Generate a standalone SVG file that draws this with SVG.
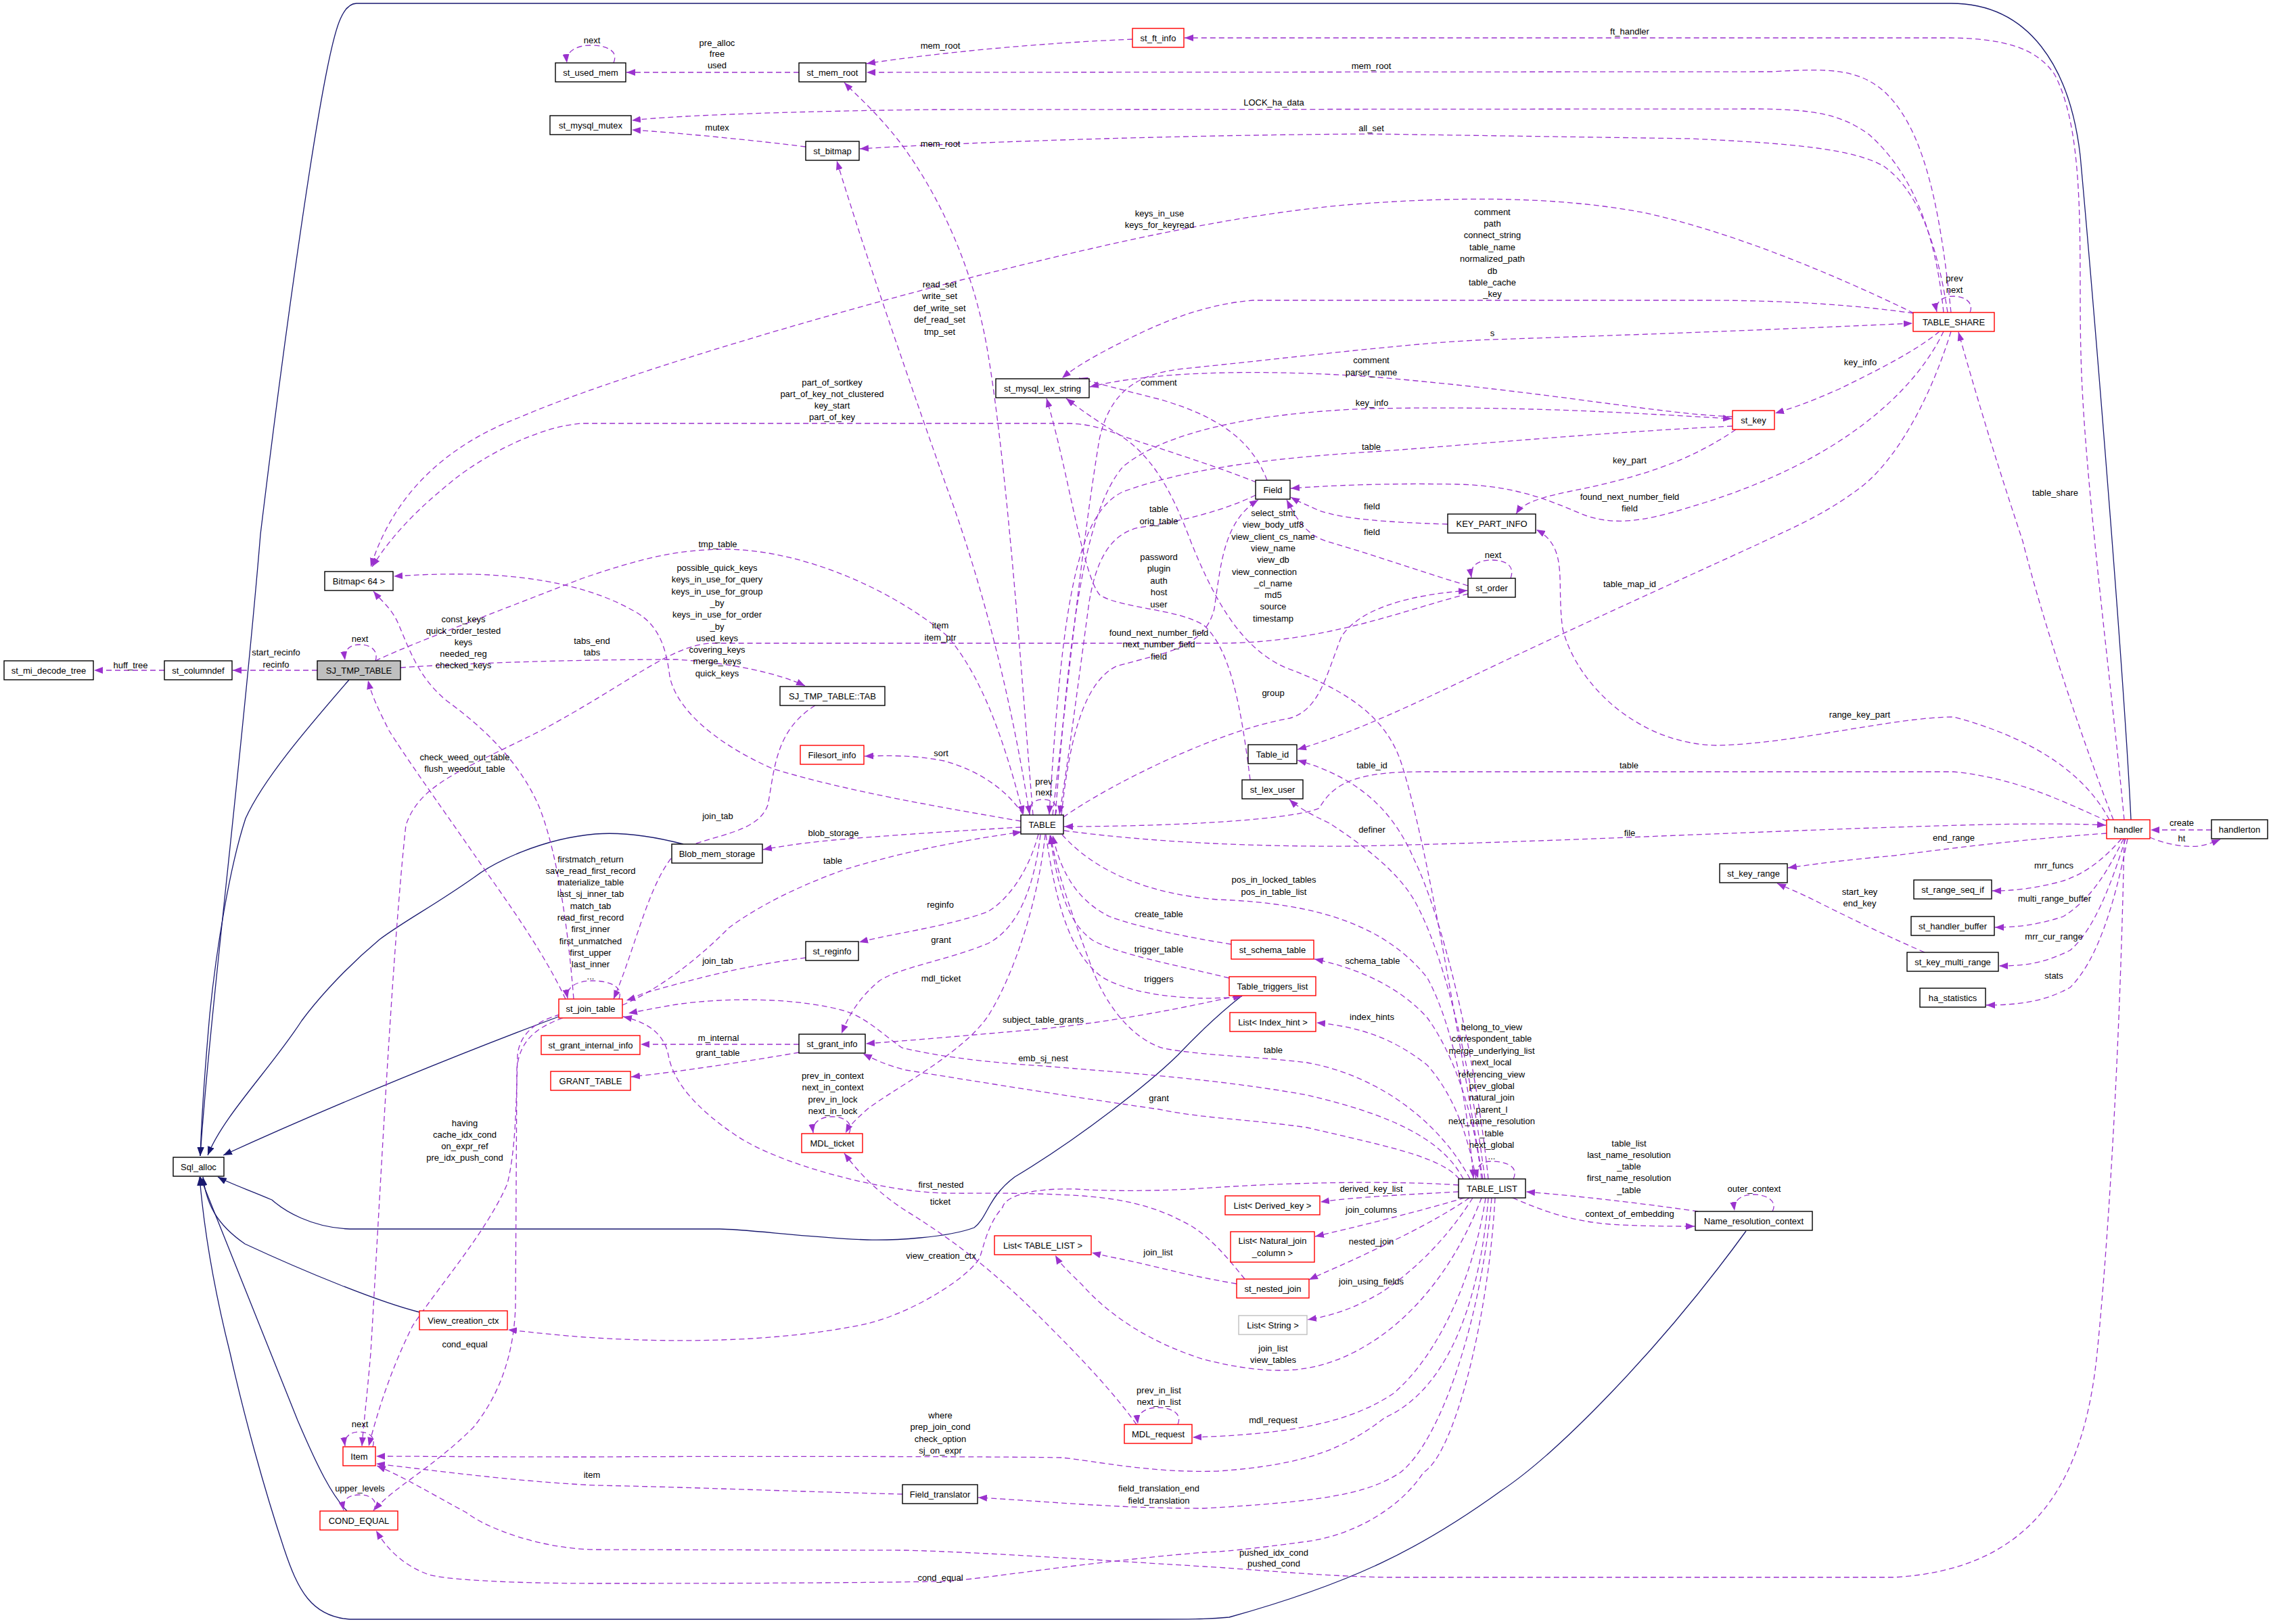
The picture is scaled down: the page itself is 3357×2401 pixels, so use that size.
<svg xmlns="http://www.w3.org/2000/svg" width="3357" height="2401" viewBox="0 0 3357 2401">
<defs>
<style>
text{font-family:"Liberation Sans",Arial,sans-serif;font-size:13px;fill:#000;text-anchor:middle}
.n rect{fill:#fff;stroke:#000;stroke-width:1.4}
.r rect{fill:#fff;stroke:#ff0000;stroke-width:1.4}
.g rect{fill:#fff;stroke:#bfbfbf;stroke-width:1.4}
.s rect{fill:#bfbfbf;stroke:#000;stroke-width:1.4}
.e path{fill:none;stroke:#9a32cd;stroke-width:1.3;stroke-dasharray:8,5;marker-end:url(#a)}
.i path{fill:none;stroke:#191970;stroke-width:1.3;marker-end:url(#b)}
</style>
<marker id="a" markerUnits="userSpaceOnUse" markerWidth="14" markerHeight="10" refX="13" refY="5" orient="auto"><path d="M0,0 L13,5 L0,10 z" fill="#9a32cd"/></marker>
<marker id="b" markerUnits="userSpaceOnUse" markerWidth="14" markerHeight="10" refX="13" refY="5" orient="auto"><path d="M0,0 L13,5 L0,10 z" fill="#191970"/></marker>
</defs>
<rect width="3357" height="2401" fill="#fff"/>
<g id="connectors">
<g class="i">
<path d="M3150,1212 C3140,1000 3095,450 3075,230 C3060,100 3000,5 2884,5 L527,5 C505,5 495,45 483,105 C460,220 420,500 385,790 C360,1100 310,1500 296,1709"/>
<path d="M516,1005 C460,1070 390,1150 363,1210 C340,1280 320,1400 310,1500 C303,1580 298,1650 296,1709"/>
<path d="M1010,1248 C960,1235 920,1230 880,1233 C800,1240 730,1275 701,1297 C640,1340 600,1360 561,1389 C500,1440 460,1490 446,1509 C400,1580 330,1650 307,1708"/>
<path d="M826,1503 C700,1550 500,1630 330,1708"/>
<path d="M1836,1472 C1800,1500 1760,1540 1741,1560 C1700,1600 1600,1680 1500,1740 C1460,1770 1460,1800 1440,1815 C1400,1830 1320,1834 1282,1833 C1200,1830 1100,1817 1064,1817 L517,1817 C460,1815 420,1790 402,1774 C370,1760 340,1750 322,1740"/>
<path d="M620,1940 C560,1925 450,1880 362,1839 C320,1810 305,1780 300,1740"/>
<path d="M513,2234 C490,2210 470,2170 440,2100 C380,1950 320,1800 296,1740"/>
<path d="M2581,1820 C2450,2000 2300,2150 2219,2204 C2100,2290 2000,2340 1817,2391 C1780,2394 1760,2394 1700,2394 L517,2394 C460,2390 440,2350 420,2290 C390,2200 360,2090 340,2000 C310,1880 300,1800 295,1740"/>
</g>
<g class="e">
<path d="M907,93 C915,74 895,67 873,67 C852,67 836,76 838,93"/>
<path d="M1181,107 L926,107"/>
<path d="M1674,58 C1550,63 1400,76 1281,94"/>
<path d="M2884,462 C2870,330 2850,200 2790,140 C2750,100 2700,101 2620,106 L1281,107"/>
<path d="M1527,1205 C1510,1000 1490,700 1460,520 C1440,400 1390,290 1330,210 C1295,165 1265,140 1248,122"/>
<path d="M2873,462 C2860,330 2820,250 2763,199 C2720,168 2680,162 2600,161 L1380,162 C1200,164 1000,170 934,178"/>
<path d="M1191,217 C1120,208 1000,196 934,192"/>
<path d="M2879,462 C2862,350 2832,280 2785,246 C2740,220 2650,212 2500,205 L2027,198 C1700,200 1400,212 1271,220"/>
<path d="M1522,1205 C1490,1000 1440,830 1400,722 C1350,580 1280,380 1237,238"/>
<path d="M3140,1212 C3120,1000 3080,700 3076,523 C3072,380 3085,200 3037,110 C3010,70 2960,57 2884,56 L1751,56"/>
<path d="M2829,463 C2700,400 2550,340 2428,314 C2300,290 2150,290 1989,303 C1800,320 1600,370 1444,408 C1200,470 900,560 768,617 C658,659 581,732 548,838"/>
<path d="M1857,713 C1800,690 1720,665 1660,645 C1630,633 1610,627 1580,626 L860,626 C800,630 720,670 670,710 C620,750 580,790 550,838"/>
<path d="M2828,463 C2750,452 2650,444 2520,444 L1852,444 C1780,450 1720,475 1660,505 C1620,525 1590,542 1570,559"/>
<path d="M1556,1205 C1580,1000 1600,800 1625,650 C1640,580 1680,552 1750,545 C1900,530 2100,505 2206,502 C2450,494 2650,486 2827,478"/>
<path d="M2561,616 C2450,612 2300,580 2027,557 C1850,545 1700,550 1611,572"/>
<path d="M1873,710 C1850,650 1800,615 1713,590 C1660,577 1620,566 1595,559"/>
<path d="M1560,1205 C1580,950 1600,760 1660,690 C1720,640 1850,610 2028,604 C2250,600 2400,610 2560,619"/>
<path d="M2561,630 C2350,640 2150,660 2027,668 C1900,676 1760,690 1660,727 C1590,760 1570,900 1551,1204"/>
<path d="M2566,635 C2500,680 2430,705 2318,727 C2270,737 2250,745 2241,760"/>
<path d="M2873,490 C2830,580 2720,680 2520,743 C2450,765 2400,780 2346,763 C2300,745 2250,718 2154,716 C2050,714 1960,718 1908,722"/>
<path d="M2140,775 C2050,772 1990,768 1950,755 C1935,748 1920,742 1908,735"/>
<path d="M2170,866 C2100,845 2030,820 1960,800 C1930,790 1915,765 1902,739"/>
<path d="M1856,732 C1800,760 1720,775 1683,780 C1640,790 1620,830 1610,890 C1595,1000 1580,1120 1566,1204"/>
<path d="M2192,1743 C2150,1500 2110,1250 2072,1130 C2050,1060 1990,1020 1900,987 C1840,960 1800,900 1760,800 C1730,720 1700,670 1650,640 C1610,615 1590,600 1576,589"/>
<path d="M1848,1153 C1835,1050 1820,960 1779,924 C1740,900 1660,900 1626,880 C1600,850 1580,700 1547,589"/>
<path d="M1569,1205 C1580,1100 1600,1010 1650,985 C1720,965 1780,960 1795,900 C1805,830 1810,770 1860,739"/>
<path d="M2170,878 C2080,900 1960,951 1800,951 L1050,951 C990,955 930,1010 800,1080 C680,1140 620,1160 600,1220 C580,1400 560,1800 548,2000 C542,2070 537,2110 535,2138"/>
<path d="M2233,855 C2240,836 2225,828 2205,828 C2185,828 2172,836 2175,854"/>
<path d="M1572,1208 C1640,1160 1800,1080 1906,1062 C1950,1050 1960,1000 1983,941 C2010,900 2080,880 2169,873"/>
<path d="M2912,462 C2918,448 2905,438 2888,438 C2870,438 2860,448 2863,461"/>
<path d="M2867,490 C2830,520 2780,545 2719,575 C2680,592 2660,600 2624,611"/>
<path d="M3124,1212 C3080,1100 3020,920 2990,800 C2950,680 2920,580 2895,491"/>
<path d="M2884,490 C2850,600 2800,680 2755,717 C2700,760 2650,780 2602,803 C2500,850 2300,940 2155,1010 C2050,1060 1980,1090 1918,1108"/>
<path d="M3118,1212 C3080,1140 3000,1090 2888,1060 C2800,1060 2650,1100 2538,1102 C2420,1100 2330,1010 2310,930 C2300,860 2320,810 2271,783"/>
<path d="M2200,1743 C2180,1550 2130,1350 2090,1270 C2060,1200 2010,1150 1918,1124"/>
<path d="M3115,1214 C3050,1185 2980,1150 2888,1141 L2100,1141 C2000,1141 1970,1160 1950,1195 C1900,1215 1700,1222 1573,1222"/>
<path d="M2195,1743 C2170,1550 2130,1400 2090,1330 C2060,1280 2000,1240 1965,1217 C1940,1205 1920,1195 1906,1182"/>
<path d="M1573,1228 C1700,1245 1850,1252 2000,1251 C2300,1245 2600,1228 2900,1220 C3000,1217 3080,1218 3113,1220"/>
<path d="M3114,1232 C3000,1240 2900,1252 2800,1265 C2720,1272 2680,1278 2643,1283"/>
<path d="M2845,1408 C2780,1380 2720,1350 2680,1330 C2660,1320 2640,1312 2627,1306"/>
<path d="M3136,1240 C3110,1270 3080,1295 3040,1305 C3000,1315 2970,1317 2945,1317"/>
<path d="M3139,1240 C3115,1290 3090,1330 3050,1355 C3010,1368 2980,1371 2949,1371"/>
<path d="M3142,1240 C3120,1310 3095,1375 3060,1405 C3020,1425 2990,1428 2955,1428"/>
<path d="M3145,1240 C3125,1340 3100,1420 3060,1460 C3020,1482 2980,1486 2936,1486"/>
<path d="M3269,1227 L3179,1227"/>
<path d="M3178,1238 C3200,1248 3230,1253 3250,1251 C3262,1249 3270,1246 3282,1241"/>
<path d="M555,977 C560,962 548,953 532,953 C516,953 508,962 510,976"/>
<path d="M469,991 L344,991"/>
<path d="M243,991 L139,991"/>
<path d="M848,1477 C838,1350 820,1250 797,1193 C770,1130 720,1080 663,1038 C620,1005 605,960 590,925 C580,900 565,890 552,874"/>
<path d="M592,987 C700,980 850,975 1000,975 C1080,980 1150,995 1190,1014"/>
<path d="M555,977 C600,955 720,910 861,855 C950,825 1000,812 1077,812 C1200,815 1330,880 1400,940 C1460,1010 1490,1120 1513,1204"/>
<path d="M1509,1214 C1400,1195 1250,1170 1141,1136 C1060,1100 1000,1050 990,1000 C985,960 975,925 940,905 C880,870 800,852 701,849 C650,848 615,850 582,852"/>
<path d="M836,1477 C800,1400 740,1320 700,1262 C650,1190 600,1120 575,1080 C560,1050 550,1030 544,1006"/>
<path d="M915,1477 C922,1458 900,1450 875,1450 C852,1450 836,1460 839,1476"/>
<path d="M1205,1043 C1145,1080 1145,1140 1135,1190 C1120,1235 1040,1235 1000,1260 C960,1300 940,1400 907,1477"/>
<path d="M1512,1204 C1490,1170 1450,1140 1396,1125 C1350,1116 1310,1117 1278,1118"/>
<path d="M1560,1205 C1566,1188 1555,1182 1541,1182 C1528,1182 1520,1190 1522,1204"/>
<path d="M1509,1223 C1420,1228 1300,1236 1232,1242 C1180,1247 1150,1252 1128,1256"/>
<path d="M920,1486 C980,1460 1040,1410 1077,1372 C1120,1340 1180,1310 1250,1285 C1350,1255 1440,1240 1510,1230"/>
<path d="M1191,1416 C1120,1425 1050,1440 950,1469 C940,1473 935,1476 926,1479"/>
<path d="M1535,1233 C1520,1290 1490,1330 1460,1348 C1400,1370 1320,1380 1270,1393"/>
<path d="M1538,1234 C1530,1300 1510,1370 1460,1395 C1400,1420 1330,1430 1300,1450 C1270,1475 1255,1500 1244,1528"/>
<path d="M1545,1234 C1535,1330 1500,1440 1460,1503 C1420,1560 1320,1610 1282,1640 C1265,1655 1255,1665 1250,1675"/>
<path d="M1570,1234 C1620,1290 1700,1322 1800,1330 C1950,1335 2050,1370 2110,1446 C2150,1520 2170,1640 2178,1742"/>
<path d="M1820,1396 C1750,1385 1680,1370 1640,1355 C1600,1335 1570,1300 1556,1235"/>
<path d="M1817,1446 C1730,1425 1650,1410 1615,1390 C1580,1365 1565,1320 1552,1235"/>
<path d="M1546,1234 C1560,1330 1580,1410 1630,1445 C1680,1475 1780,1480 1836,1473"/>
<path d="M1181,1544 L947,1544"/>
<path d="M1181,1556 C1100,1570 1000,1585 933,1592"/>
<path d="M1830,1472 C1750,1490 1650,1510 1542,1521 C1440,1530 1350,1538 1280,1543"/>
<path d="M2173,1743 C2133,1667 2047,1592 1932,1571 C1860,1562 1780,1561 1720,1550 C1670,1535 1630,1480 1610,1420 C1580,1340 1560,1280 1553,1235"/>
<path d="M2163,1743 C2130,1680 2047,1646 1932,1619 C1800,1595 1650,1585 1542,1576 C1480,1572 1400,1565 1333,1549 C1300,1525 1280,1505 1250,1495 C1180,1475 1077,1474 1000,1485 C970,1490 950,1494 929,1498"/>
<path d="M2157,1743 C2130,1710 2047,1694 1932,1667 C1850,1655 1780,1654 1713,1640 C1600,1624 1450,1600 1339,1582 C1310,1575 1290,1565 1276,1558"/>
<path d="M1255,1676 C1262,1660 1248,1651 1230,1651 C1212,1651 1200,1660 1202,1675"/>
<path d="M2190,1743 C2180,1650 2150,1560 2110,1505 C2070,1460 2010,1432 1943,1418"/>
<path d="M2182,1743 C2170,1680 2150,1620 2110,1575 C2060,1535 2010,1518 1946,1512"/>
<path d="M2237,1743 C2246,1724 2225,1717 2205,1717 C2188,1717 2180,1726 2185,1742"/>
<path d="M828,1500 C790,1510 768,1530 765,1560 C763,1640 762,1700 750,1750 C720,1820 650,1900 610,1960 C580,2020 560,2080 545,2138"/>
<path d="M832,1505 C790,1520 768,1540 764,1580 L762,1930 C760,2000 740,2060 700,2110 C640,2170 580,2200 553,2233"/>
<path d="M1840,1891 C1815,1860 1790,1830 1760,1812 C1720,1790 1680,1774 1600,1768 C1500,1762 1450,1765 1397,1764 C1300,1762 1150,1720 1090,1680 C1030,1640 995,1600 988,1560 C982,1530 960,1512 921,1503"/>
<path d="M1680,2106 C1640,2050 1580,1990 1540,1950 C1480,1890 1420,1840 1339,1790 C1300,1765 1270,1735 1248,1705"/>
<path d="M2156,1752 C2050,1745 1900,1748 1760,1758 C1680,1762 1620,1760 1591,1758 C1520,1756 1485,1770 1482,1785 C1460,1810 1455,1840 1448,1860 C1430,1890 1350,1940 1282,1957 C1150,1985 1000,1985 880,1978 C820,1974 790,1970 751,1966"/>
<path d="M1828,1898 C1750,1885 1700,1870 1660,1862 C1640,1858 1630,1856 1614,1852"/>
<path d="M2510,1791 C2420,1778 2330,1768 2256,1762"/>
<path d="M2620,1791 C2628,1776 2612,1766 2592,1766 C2572,1766 2562,1776 2564,1790"/>
<path d="M2236,1771 C2280,1790 2320,1805 2380,1810 C2430,1813 2470,1813 2505,1813"/>
<path d="M2156,1762 C2080,1766 2000,1770 1952,1777"/>
<path d="M2165,1771 C2100,1790 2030,1808 1944,1828"/>
<path d="M2172,1771 C2130,1800 2080,1825 2027,1850 C1990,1868 1960,1880 1935,1892"/>
<path d="M2177,1771 C2140,1830 2090,1880 2040,1912 C2000,1935 1970,1945 1933,1951"/>
<path d="M2190,1771 C2160,1850 2100,1950 2000,2000 C1940,2030 1880,2035 1780,2010 C1700,1985 1640,1945 1600,1900 C1580,1880 1568,1870 1560,1856"/>
<path d="M2196,1771 C2180,1880 2130,2000 2060,2060 C2000,2100 1920,2120 1763,2125"/>
<path d="M1741,2106 C1748,2090 1732,2081 1712,2081 C1692,2081 1680,2090 1682,2105"/>
<path d="M2200,1771 C2190,1900 2150,2050 2047,2096 C1990,2140 1932,2166 1800,2175 C1700,2178 1620,2160 1569,2155 C1450,2153 1000,2153 880,2154 C700,2154 620,2153 556,2153"/>
<path d="M551,2139 C556,2124 545,2117 531,2117 C518,2117 508,2124 510,2138"/>
<path d="M1334,2209 C1200,2206 1000,2198 880,2196 C760,2190 650,2175 556,2164"/>
<path d="M2205,1771 C2190,1950 2130,2130 2070,2177 C2020,2210 1950,2220 1780,2230 C1650,2230 1550,2220 1446,2214"/>
<path d="M552,2234 C560,2218 548,2210 531,2210 C515,2210 505,2218 508,2233"/>
<path d="M2210,1771 C2200,1950 2150,2150 2104,2177 C2070,2230 2000,2270 1932,2279 C1850,2290 1800,2295 1780,2295 C1600,2310 1450,2335 1397,2338 C1200,2341 1000,2341 880,2341 C750,2341 650,2335 631,2327 C600,2315 575,2295 556,2263"/>
<path d="M3140,1240 C3135,1500 3120,1800 3100,2000 C3080,2200 3000,2320 2800,2332 L2047,2332 C1950,2330 1850,2320 1780,2316 C1600,2305 1450,2295 1339,2292 L880,2291 C800,2290 720,2260 689,2236 C640,2210 600,2185 557,2167"/>
</g>
<g id="edge-labels">
<text x="875" y="63.5">next</text>
<text x="1060" y="67.5"><tspan x="1060">pre_alloc</tspan><tspan x="1060" dy="16.5">free</tspan><tspan x="1060" dy="16.5">used</tspan></text>
<text x="1390" y="71.5">mem_root</text>
<text x="2027" y="101.5">mem_root</text>
<text x="1390" y="216.5">mem_root</text>
<text x="1883" y="155.5">LOCK_ha_data</text>
<text x="1060" y="192.5">mutex</text>
<text x="2027" y="193.5">all_set</text>
<text x="1389" y="424.5"><tspan x="1389">read_set</tspan><tspan x="1389" dy="17.5">write_set</tspan><tspan x="1389" dy="17.5">def_write_set</tspan><tspan x="1389" dy="17.5">def_read_set</tspan><tspan x="1389" dy="17.5">tmp_set</tspan></text>
<text x="2409" y="50.5">ft_handler</text>
<text x="1714" y="319.5"><tspan x="1714">keys_in_use</tspan><tspan x="1714" dy="17">keys_for_keyread</tspan></text>
<text x="1230" y="569.5"><tspan x="1230">part_of_sortkey</tspan><tspan x="1230" dy="17.2">part_of_key_not_clustered</tspan><tspan x="1230" dy="17.2">key_start</tspan><tspan x="1230" dy="17.2">part_of_key</tspan></text>
<text x="2206" y="317.5"><tspan x="2206">comment</tspan><tspan x="2206" dy="17.4">path</tspan><tspan x="2206" dy="17.4">connect_string</tspan><tspan x="2206" dy="17.4">table_name</tspan><tspan x="2206" dy="17.4">normalized_path</tspan><tspan x="2206" dy="17.4">db</tspan><tspan x="2206" dy="17.4">table_cache</tspan><tspan x="2206" dy="17.4">_key</tspan></text>
<text x="2206" y="496.5">s</text>
<text x="2027" y="536.5"><tspan x="2027">comment</tspan><tspan x="2027" dy="18">parser_name</tspan></text>
<text x="1713" y="569.5">comment</text>
<text x="2028" y="599.5">key_info</text>
<text x="2027" y="664.5">table</text>
<text x="2409" y="684.5">key_part</text>
<text x="2409" y="738.5"><tspan x="2409">found_next_number_field</tspan><tspan x="2409" dy="17">field</tspan></text>
<text x="2028" y="752.5">field</text>
<text x="2028" y="790.5">field</text>
<text x="1713" y="756.5"><tspan x="1713">table</tspan><tspan x="1713" dy="18">orig_table</tspan></text>
<text x="1882" y="763"><tspan x="1882">select_stmt</tspan><tspan x="1882" dy="17.3">view_body_utf8</tspan><tspan x="1882" dy="17.3">view_client_cs_name</tspan><tspan x="1882" dy="17.3">view_name</tspan><tspan x="1882" dy="17.3">view_db</tspan><tspan x="1869" dy="17.3">view_connection</tspan><tspan x="1882" dy="17.3">_cl_name</tspan><tspan x="1882" dy="17.3">md5</tspan><tspan x="1882" dy="17.3">source</tspan><tspan x="1882" dy="17.3">timestamp</tspan></text>
<text x="1713" y="828"><tspan x="1713">password</tspan><tspan x="1713" dy="17.4">plugin</tspan><tspan x="1713" dy="17.4">auth</tspan><tspan x="1713" dy="17.4">host</tspan><tspan x="1713" dy="17.4">user</tspan></text>
<text x="1713" y="940"><tspan x="1713">found_next_number_field</tspan><tspan x="1713" dy="17.4">next_number_field</tspan><tspan x="1713" dy="17.4">field</tspan></text>
<text x="1390" y="929"><tspan x="1390">item</tspan><tspan x="1390" dy="18">item_ptr</tspan></text>
<text x="2207" y="825">next</text>
<text x="1882" y="1028.5">group</text>
<text x="2889" y="415.5"><tspan x="2889">prev</tspan><tspan x="2889" dy="17">next</tspan></text>
<text x="2750" y="539.5">key_info</text>
<text x="3038" y="733">table_share</text>
<text x="2409" y="868">table_map_id</text>
<text x="2749" y="1060.5">range_key_part</text>
<text x="2028" y="1136">table_id</text>
<text x="2408" y="1136">table</text>
<text x="2028" y="1231">definer</text>
<text x="2409" y="1236">file</text>
<text x="2888" y="1243">end_range</text>
<text x="2749" y="1323"><tspan x="2749">start_key</tspan><tspan x="2749" dy="17">end_key</tspan></text>
<text x="3036" y="1284">mrr_funcs</text>
<text x="3037" y="1332.5">multi_range_buffer</text>
<text x="3036" y="1389">mrr_cur_range</text>
<text x="3036" y="1446.5">stats</text>
<text x="3225" y="1221">create</text>
<text x="3225" y="1243.5">ht</text>
<text x="532" y="948.5">next</text>
<text x="408" y="968.5"><tspan x="408">start_recinfo</tspan><tspan x="408" dy="18">recinfo</tspan></text>
<text x="193" y="987.5">huff_tree</text>
<text x="685" y="920"><tspan x="685">const_keys</tspan><tspan x="685" dy="17.1">quick_order_tested</tspan><tspan x="685" dy="17.1">keys</tspan><tspan x="685" dy="17.1">needed_reg</tspan><tspan x="685" dy="17.1">checked_keys</tspan></text>
<text x="875" y="952"><tspan x="875">tabs_end</tspan><tspan x="875" dy="16.6">tabs</tspan></text>
<text x="1061" y="809">tmp_table</text>
<text x="1060" y="844"><tspan x="1060">possible_quick_keys</tspan><tspan x="1060" dy="17.3">keys_in_use_for_query</tspan><tspan x="1060" dy="17.3">keys_in_use_for_group</tspan><tspan x="1060" dy="17.3">_by</tspan><tspan x="1060" dy="17.3">keys_in_use_for_order</tspan><tspan x="1060" dy="17.3">_by</tspan><tspan x="1060" dy="17.3">used_keys</tspan><tspan x="1060" dy="17.3">covering_keys</tspan><tspan x="1060" dy="17.3">merge_keys</tspan><tspan x="1060" dy="17.3">quick_keys</tspan></text>
<text x="687" y="1123.5"><tspan x="687">check_weed_out_table</tspan><tspan x="687" dy="17.3">flush_weedout_table</tspan></text>
<text x="873" y="1274.5"><tspan x="873">firstmatch_return</tspan><tspan x="873" dy="17.3">save_read_first_record</tspan><tspan x="873" dy="17.3">materialize_table</tspan><tspan x="873" dy="17.3">last_sj_inner_tab</tspan><tspan x="873" dy="17.3">match_tab</tspan><tspan x="873" dy="17.3">read_first_record</tspan><tspan x="873" dy="17.3">first_inner</tspan><tspan x="873" dy="17.3">first_unmatched</tspan><tspan x="873" dy="17.3">first_upper</tspan><tspan x="873" dy="17.3">last_inner</tspan><tspan x="873" dy="17.3">...</tspan></text>
<text x="1061" y="1210.5">join_tab</text>
<text x="1391" y="1117.5">sort</text>
<text x="1543" y="1159.5"><tspan x="1543">prev</tspan><tspan x="1543" dy="16.5">next</tspan></text>
<text x="1232" y="1236">blob_storage</text>
<text x="1231" y="1276.5">table</text>
<text x="1061" y="1425">join_tab</text>
<text x="1390" y="1341.5">reginfo</text>
<text x="1391" y="1393.5">grant</text>
<text x="1391" y="1450.5">mdl_ticket</text>
<text x="1883" y="1305"><tspan x="1883">pos_in_locked_tables</tspan><tspan x="1883" dy="17.6">pos_in_table_list</tspan></text>
<text x="1713" y="1356">create_table</text>
<text x="1713" y="1407.5">trigger_table</text>
<text x="1713" y="1452">triggers</text>
<text x="1062" y="1538.5">m_internal</text>
<text x="1061" y="1561">grant_table</text>
<text x="1542" y="1512">subject_table_grants</text>
<text x="1882" y="1557">table</text>
<text x="1542" y="1569">emb_sj_nest</text>
<text x="1713" y="1627.5">grant</text>
<text x="1231" y="1595"><tspan x="1231">prev_in_context</tspan><tspan x="1231" dy="17.3">next_in_context</tspan><tspan x="1231" dy="17.3">prev_in_lock</tspan><tspan x="1231" dy="17.3">next_in_lock</tspan></text>
<text x="2029" y="1424.5">schema_table</text>
<text x="2028" y="1507.5">index_hints</text>
<text x="2205" y="1523"><tspan x="2205">belong_to_view</tspan><tspan x="2205" dy="17.4">correspondent_table</tspan><tspan x="2205" dy="17.4">merge_underlying_list</tspan><tspan x="2205" dy="17.4">next_local</tspan><tspan x="2205" dy="17.4">referencing_view</tspan><tspan x="2205" dy="17.4">prev_global</tspan><tspan x="2205" dy="17.4">natural_join</tspan><tspan x="2205" dy="17.4">parent_l</tspan><tspan x="2205" dy="17.4">next_name_resolution</tspan><tspan x="2205" dy="17.4">_table</tspan><tspan x="2205" dy="17.4">next_global</tspan><tspan x="2205" dy="17.4">...</tspan></text>
<text x="687" y="1664.5"><tspan x="687">having</tspan><tspan x="687" dy="17.3">cache_idx_cond</tspan><tspan x="687" dy="17.3">on_expr_ref</tspan><tspan x="687" dy="17.3">pre_idx_push_cond</tspan></text>
<text x="687" y="1991.5">cond_equal</text>
<text x="1391" y="1755.5">first_nested</text>
<text x="1390" y="1780.5">ticket</text>
<text x="1391" y="1861">view_creation_ctx</text>
<text x="1712" y="1855.5">join_list</text>
<text x="2408" y="1694.5"><tspan x="2408">table_list</tspan><tspan x="2408" dy="17.3">last_name_resolution</tspan><tspan x="2408" dy="17.3">_table</tspan><tspan x="2408" dy="17.3">first_name_resolution</tspan><tspan x="2408" dy="17.3">_table</tspan></text>
<text x="2593" y="1761.5">outer_context</text>
<text x="2409" y="1798.5">context_of_embedding</text>
<text x="2027" y="1761.5">derived_key_list</text>
<text x="2027" y="1792.5">join_columns</text>
<text x="2027" y="1840">nested_join</text>
<text x="2027" y="1899">join_using_fields</text>
<text x="1882" y="1997.5"><tspan x="1882">join_list</tspan><tspan x="1882" dy="17.5">view_tables</tspan></text>
<text x="1882" y="2104">mdl_request</text>
<text x="1713" y="2059.5"><tspan x="1713">prev_in_list</tspan><tspan x="1713" dy="17">next_in_list</tspan></text>
<text x="1390" y="2097"><tspan x="1390">where</tspan><tspan x="1390" dy="17.3">prep_join_cond</tspan><tspan x="1390" dy="17.3">check_option</tspan><tspan x="1390" dy="17.3">sj_on_expr</tspan></text>
<text x="532" y="2109.5">next</text>
<text x="875" y="2185">item</text>
<text x="1713" y="2204.5"><tspan x="1713">field_translation_end</tspan><tspan x="1713" dy="18">field_translation</tspan></text>
<text x="532" y="2204.5">upper_levels</text>
<text x="1390" y="2336.5">cond_equal</text>
<text x="1883" y="2299.5"><tspan x="1883">pushed_idx_cond</tspan><tspan x="1883" dy="16.7">pushed_cond</tspan></text>
</g>
</g>
<g id="st_used_mem" class="n"><rect x="821" y="93" width="104" height="28"/><text x="873" y="111.5">st_used_mem</text></g>
<g id="st_mem_root" class="n"><rect x="1181" y="93" width="99" height="28"/><text x="1230.5" y="111.5">st_mem_root</text></g>
<g id="st_mysql_mutex" class="n"><rect x="813" y="171" width="120" height="28"/><text x="873" y="189.5">st_mysql_mutex</text></g>
<g id="st_bitmap" class="n"><rect x="1191" y="209" width="79" height="28"/><text x="1230.5" y="227.5">st_bitmap</text></g>
<g id="st_ft_info" class="r"><rect x="1674" y="42" width="76" height="28"/><text x="1712" y="60.5">st_ft_info</text></g>
<g id="st_mysql_lex_string" class="n"><rect x="1472" y="560" width="138" height="28"/><text x="1541" y="578.5">st_mysql_lex_string</text></g>
<g id="TABLE_SHARE" class="r"><rect x="2828" y="462" width="120" height="28"/><text x="2888" y="480.5">TABLE_SHARE</text></g>
<g id="st_key" class="r"><rect x="2561" y="607" width="62" height="28"/><text x="2592" y="625.5">st_key</text></g>
<g id="Field" class="n"><rect x="1856" y="710" width="51" height="28"/><text x="1881.5" y="728.5">Field</text></g>
<g id="KEY_PART_INFO" class="n"><rect x="2140" y="760" width="130" height="28"/><text x="2205" y="778.5">KEY_PART_INFO</text></g>
<g id="st_order" class="n"><rect x="2170" y="855" width="70" height="28"/><text x="2205" y="873.5">st_order</text></g>
<g id="Bitmap_64" class="n"><rect x="480" y="845" width="101" height="28"/><text x="530.5" y="863.5">Bitmap&lt; 64 &gt;</text></g>
<g id="SJ_TMP_TABLE" class="s"><rect x="469" y="977" width="123" height="28"/><text x="530.5" y="995.5">SJ_TMP_TABLE</text></g>
<g id="st_columndef" class="n"><rect x="243" y="977" width="100" height="28"/><text x="293" y="995.5">st_columndef</text></g>
<g id="st_mi_decode_tree" class="n"><rect x="6" y="977" width="132" height="28"/><text x="72" y="995.5">st_mi_decode_tree</text></g>
<g id="SJ_TMP_TABLE_TAB" class="n"><rect x="1153" y="1015" width="155" height="28"/><text x="1230.5" y="1033.5">SJ_TMP_TABLE::TAB</text></g>
<g id="Filesort_info" class="r"><rect x="1183" y="1102" width="94" height="28"/><text x="1230" y="1120.5">Filesort_info</text></g>
<g id="Table_id" class="n"><rect x="1845" y="1101" width="72" height="28"/><text x="1881" y="1119.5">Table_id</text></g>
<g id="st_lex_user" class="n"><rect x="1836" y="1153" width="90" height="28"/><text x="1881" y="1171.5">st_lex_user</text></g>
<g id="TABLE" class="n"><rect x="1509" y="1205" width="63" height="28"/><text x="1540.5" y="1223.5">TABLE</text></g>
<g id="Blob_mem_storage" class="n"><rect x="993" y="1248" width="134" height="28"/><text x="1060" y="1266.5">Blob_mem_storage</text></g>
<g id="handler" class="r"><rect x="3114" y="1212" width="64" height="28"/><text x="3146" y="1230.5">handler</text></g>
<g id="handlerton" class="n"><rect x="3269" y="1212" width="83" height="28"/><text x="3310.5" y="1230.5">handlerton</text></g>
<g id="st_key_range" class="n"><rect x="2542" y="1277" width="100" height="28"/><text x="2592" y="1295.5">st_key_range</text></g>
<g id="st_range_seq_if" class="n"><rect x="2829" y="1301" width="115" height="28"/><text x="2886.5" y="1319.5">st_range_seq_if</text></g>
<g id="st_handler_buffer" class="n"><rect x="2825" y="1355" width="123" height="28"/><text x="2886.5" y="1373.5">st_handler_buffer</text></g>
<g id="st_key_multi_range" class="n"><rect x="2819" y="1408" width="135" height="28"/><text x="2886.5" y="1426.5">st_key_multi_range</text></g>
<g id="ha_statistics" class="n"><rect x="2838" y="1461" width="97" height="28"/><text x="2886.5" y="1479.5">ha_statistics</text></g>
<g id="st_schema_table" class="r"><rect x="1820" y="1390" width="122" height="28"/><text x="1881" y="1408.5">st_schema_table</text></g>
<g id="st_reginfo" class="n"><rect x="1191" y="1392" width="78" height="28"/><text x="1230" y="1410.5">st_reginfo</text></g>
<g id="Table_triggers_list" class="r"><rect x="1817" y="1444" width="128" height="28"/><text x="1881" y="1462.5">Table_triggers_list</text></g>
<g id="st_join_table" class="r"><rect x="826" y="1477" width="94" height="28"/><text x="873" y="1495.5">st_join_table</text></g>
<g id="List_Index_hint" class="r"><rect x="1818" y="1497" width="127" height="28"/><text x="1881.5" y="1515.5">List&lt; Index_hint &gt;</text></g>
<g id="st_grant_info" class="n"><rect x="1181" y="1529" width="98" height="28"/><text x="1230" y="1547.5">st_grant_info</text></g>
<g id="st_grant_internal_info" class="r"><rect x="800" y="1531" width="146" height="28"/><text x="873" y="1549.5">st_grant_internal_info</text></g>
<g id="GRANT_TABLE" class="r"><rect x="814" y="1584" width="118" height="28"/><text x="873" y="1602.5">GRANT_TABLE</text></g>
<g id="MDL_ticket" class="r"><rect x="1185" y="1676" width="90" height="28"/><text x="1230" y="1694.5">MDL_ticket</text></g>
<g id="Sql_alloc" class="n"><rect x="256" y="1711" width="75" height="28"/><text x="293.5" y="1729.5">Sql_alloc</text></g>
<g id="TABLE_LIST" class="n"><rect x="2156" y="1743" width="99" height="28"/><text x="2205.5" y="1761.5">TABLE_LIST</text></g>
<g id="List_Derived_key" class="r"><rect x="1811" y="1768" width="140" height="28"/><text x="1881" y="1786.5">List&lt; Derived_key &gt;</text></g>
<g id="Name_resolution_context" class="n"><rect x="2506" y="1791" width="173" height="28"/><text x="2592.5" y="1809.5">Name_resolution_context</text></g>
<g id="List_Natural_join_column" class="r"><rect x="1819" y="1821" width="124" height="45"/><text x="1881" y="1839"><tspan x="1881">List&lt; Natural_join</tspan><tspan x="1881" dy="17.5">_column &gt;</tspan></text></g>
<g id="List_TABLE_LIST" class="r"><rect x="1470" y="1827" width="143" height="28"/><text x="1541.5" y="1845.5">List&lt; TABLE_LIST &gt;</text></g>
<g id="st_nested_join" class="r"><rect x="1828" y="1891" width="107" height="28"/><text x="1881.5" y="1909.5">st_nested_join</text></g>
<g id="View_creation_ctx" class="r"><rect x="620" y="1938" width="130" height="28"/><text x="685" y="1956.5">View_creation_ctx</text></g>
<g id="List_String" class="g"><rect x="1831" y="1945" width="101" height="28"/><text x="1881.5" y="1963.5">List&lt; String &gt;</text></g>
<g id="MDL_request" class="r"><rect x="1662" y="2106" width="100" height="28"/><text x="1712" y="2124.5">MDL_request</text></g>
<g id="Item" class="r"><rect x="507" y="2139" width="48" height="28"/><text x="531" y="2157.5">Item</text></g>
<g id="Field_translator" class="n"><rect x="1334" y="2195" width="111" height="28"/><text x="1389.5" y="2213.5">Field_translator</text></g>
<g id="COND_EQUAL" class="r"><rect x="473" y="2234" width="115" height="28"/><text x="530.5" y="2252.5">COND_EQUAL</text></g>
</svg>
